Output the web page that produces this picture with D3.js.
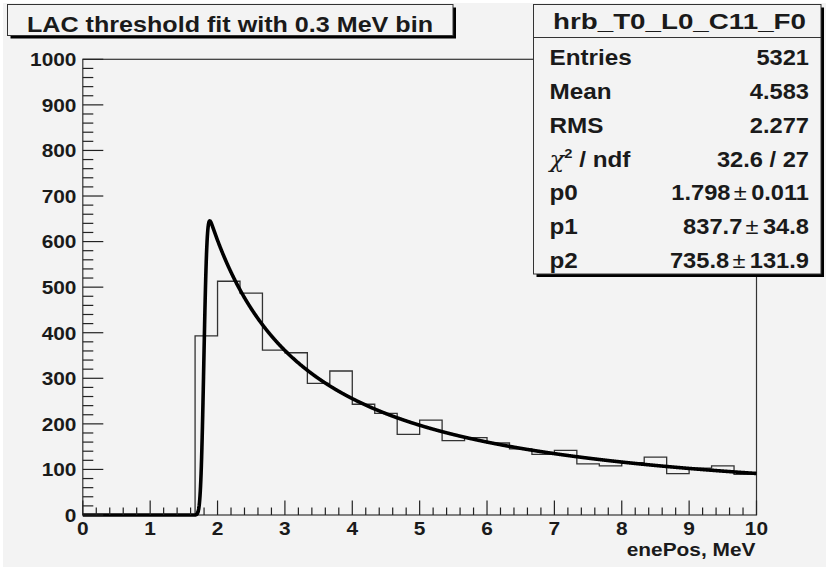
<!DOCTYPE html>
<html>
<head>
<meta charset="utf-8">
<script src="https://cdn.jsdelivr.net/npm/d3@7"></script>
<style>
  html, body { margin: 0; padding: 0; background: #ffffff; }
  svg { display: block; font-family: "Liberation Sans", Arial, Helvetica, sans-serif; font-weight: bold; }
</style>
</head>
<body>
<svg id="chart" width="826" height="567"></svg>
<script>
// Histogram: 30 bins of 1/3 MeV between 0 and 10 MeV
const binLow = 0;
const binHigh = 10;
const binCounts = [
  0, 0, 0, 0, 0,
  393, 513, 487, 362, 356,
  289, 316, 243, 223, 177,
  208, 163, 170, 158, 145,
  133, 142, 112, 108, 115,
  127, 91, 103, 108, 89
];

// Fit parameters (threshold position, 1/E and 1/E^2 coefficients)
const fitParams = [1.798, 837.7, 735.8];
const fitThresholdWidth = 0.037;

// Axis ticks
const xTickValues = [0, 1, 2, 3, 4, 5, 6, 7, 8, 9, 10];
const yTickValues = [0, 100, 200, 300, 400, 500, 600, 700, 800, 900, 1000];

// Text
const titleText = "LAC threshold fit with 0.3 MeV bin";
const xAxisTitle = "enePos, MeV";
const statsName = "hrb_T0_L0_C11_F0";
const statLabels = ["Entries", "Mean", "RMS", "chi2", "p0", "p1", "p2"];
const statValues = ["5321", "4.583", "2.277", "32.6 / 27", "1.798", "837.7", "735.8"];
const statErrors = [null, null, null, null, "0.011", "34.8", "131.9"];

const svg = d3.select("#chart");
const W = 826, H = 567;
const bg = "#f3f3f3";
const ink = "#1a1a1a";
const stretch = 1.13; // horizontal widening of the bold sans glyphs

// widen a text element horizontally around its anchor x
function widen(sel, ax, s = stretch) {
  sel.attr("transform", `translate(${ax},0) scale(${s},1) translate(${-ax},0)`);
}

// pad background
svg.append("rect").attr("x", 3).attr("y", 3).attr("width", W - 3).attr("height", H - 3).attr("fill", bg);

const x = d3.scaleLinear().domain([binLow, binHigh]).range([82.8, 756.5]);
const y = d3.scaleLinear().domain([0, 1000]).range([515, 59.3]);

// frame
svg.append("rect")
  .attr("x", x(0)).attr("y", y(1000))
  .attr("width", x(10) - x(0)).attr("height", y(0) - y(1000))
  .attr("fill", bg).attr("stroke", "#333").attr("stroke-width", 1.2);

// histogram outline
const binWidth = (binHigh - binLow) / binCounts.length;
const stepPts = binCounts.map((c, i) => [binLow + i * binWidth, c]);
stepPts.push([binHigh, binCounts[binCounts.length - 1]]);
svg.append("path")
  .datum(stepPts)
  .attr("fill", "none")
  .attr("stroke", "#333")
  .attr("stroke-width", 1.3)
  .attr("d", d3.line().x(d => x(d[0])).y(d => y(d[1])).curve(d3.curveStepAfter));

// fit function: smeared threshold times (p1/E + p2/E^2)
function normCdf(z) {
  const t = 1 / (1 + 0.2316419 * Math.abs(z));
  const d = 0.3989423 * Math.exp(-z * z / 2);
  const p = d * t * (0.3193815 + t * (-0.3565638 + t * (1.781478 + t * (-1.821256 + t * 1.330274))));
  return z > 0 ? 1 - p : p;
}
function fitFunction(e) {
  const [p0, p1, p2] = fitParams;
  if (e <= 0) return 0;
  return (p1 / e + p2 / (e * e)) * normCdf((e - p0) / fitThresholdWidth);
}
const fitPts = d3.range(binLow, binHigh + 1e-9, 0.004).map(e => [e, fitFunction(e)]);
svg.append("path")
  .datum(fitPts)
  .attr("fill", "none")
  .attr("stroke", "#000")
  .attr("stroke-width", 3.6)
  .attr("stroke-linejoin", "round")
  .attr("d", d3.line().x(d => x(d[0])).y(d => y(d[1])));

// x axis ticks (drawn inward)
const xMinor = d3.range(0, 10.0001, 0.2).filter(v => Math.abs(v - Math.round(v)) > 1e-6);
const gx = svg.append("g").attr("stroke", "#222").attr("stroke-width", 1.2);
gx.selectAll("line.maj").data(xTickValues).join("line")
  .attr("x1", d => x(d)).attr("x2", d => x(d)).attr("y1", y(0)).attr("y2", y(0) - 14.5);
gx.selectAll("line.min").data(xMinor).join("line")
  .attr("x1", d => x(d)).attr("x2", d => x(d)).attr("y1", y(0)).attr("y2", y(0) - 7.5);
svg.append("g").selectAll("text").data(xTickValues).join("text")
  .attr("x", d => x(d)).attr("y", 535)
  .attr("text-anchor", "middle").attr("font-size", 18.5).attr("fill", ink)
  .text(d => d)
  .each(function (d) { widen(d3.select(this), x(d)); });

// y axis ticks (drawn inward)
const yMinor = d3.range(0, 1000.001, 20).filter(v => v % 100 !== 0);
const gy = svg.append("g").attr("stroke", "#222").attr("stroke-width", 1.2);
gy.selectAll("line.maj").data(yTickValues).join("line")
  .attr("x1", x(0)).attr("x2", x(0) + 20.5).attr("y1", d => y(d)).attr("y2", d => y(d));
gy.selectAll("line.min").data(yMinor).join("line")
  .attr("x1", x(0)).attr("x2", x(0) + 10.5).attr("y1", d => y(d)).attr("y2", d => y(d));
svg.append("g").selectAll("text").data(yTickValues).join("text")
  .attr("x", 76.5).attr("y", d => y(d) + 6.8)
  .attr("text-anchor", "end").attr("font-size", 18.5).attr("fill", ink)
  .text(d => d)
  .each(function () { widen(d3.select(this), 76.5); });

// x axis title
widen(svg.append("text")
  .attr("x", 755.5).attr("y", 556.5)
  .attr("text-anchor", "end").attr("font-size", 18.5).attr("fill", ink)
  .text(xAxisTitle), 755.5);

// box with ROOT-style drop shadow
function paveBox(x0, y0, x1, y1) {
  svg.append("rect").attr("x", x0 + 3).attr("y", y0 + 3).attr("width", x1 - x0).attr("height", y1 - y0).attr("fill", "#000");
  svg.append("rect").attr("x", x0).attr("y", y0).attr("width", x1 - x0).attr("height", y1 - y0)
    .attr("fill", bg).attr("stroke", "#333").attr("stroke-width", 1);
}

// title
paveBox(7.5, 4.5, 453, 35.5);
svg.append("text")
  .attr("x", 230).attr("y", 32.3)
  .attr("text-anchor", "middle").attr("font-size", 22.5).attr("fill", ink)
  .attr("textLength", 406).attr("lengthAdjust", "spacingAndGlyphs")
  .text(titleText);

// statistics box
const sx0 = 533.5, sx1 = 821, sy0 = 4.5, sy1 = 274;
paveBox(sx0, sy0, sx1, sy1);
svg.append("line").attr("x1", sx0).attr("x2", sx1).attr("y1", 37.5).attr("y2", 37.5)
  .attr("stroke", "#333").attr("stroke-width", 1);
svg.append("text")
  .attr("x", 679.5).attr("y", 29.3)
  .attr("text-anchor", "middle").attr("font-size", 22.5).attr("fill", ink)
  .attr("textLength", 253).attr("lengthAdjust", "spacingAndGlyphs")
  .text(statsName);

const rowY = d3.scaleLinear().domain([0, statLabels.length - 1]).range([65.5, 268]);
statLabels.forEach((lab, i) => {
  const t = svg.append("text")
    .attr("x", 549.5).attr("y", rowY(i))
    .attr("font-size", 21.5).attr("fill", ink);
  if (lab === "chi2") {
    t.append("tspan").attr("font-family", "'DejaVu Serif', 'Liberation Serif', serif")
      .attr("font-style", "italic").attr("font-weight", "normal").text("χ");
    t.append("tspan").attr("font-size", 13).attr("dy", -9).text("2");
    t.append("tspan").attr("dy", 9).text(" / ndf");
  } else {
    t.text(lab);
  }
  widen(t, 549.5);
  const v = svg.append("text")
    .attr("x", 809).attr("y", rowY(i))
    .attr("text-anchor", "end").attr("font-size", 21.5).attr("fill", ink);
  v.append("tspan").text(statValues[i]);
  if (statErrors[i] !== null) {
    v.append("tspan").attr("font-weight", "normal").attr("dx", 3).text("±");
    v.append("tspan").attr("dx", 4).text(statErrors[i]);
  }
  widen(v, 809, 1.1);
});
</script>
</body>
</html>
